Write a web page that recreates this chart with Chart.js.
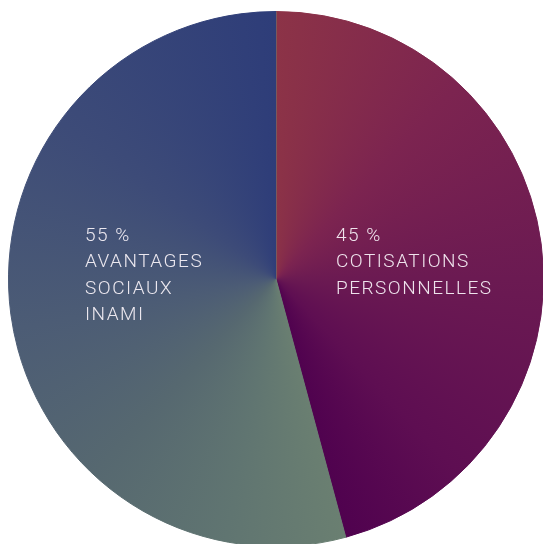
<!DOCTYPE html>
<html>
<head>
<meta charset="utf-8">
<script src="https://cdn.jsdelivr.net/npm/chart.js@4.4.1/dist/chart.umd.min.js"></script>
<style>
  html, body { margin:0; padding:0; background:#ffffff; overflow:hidden; }
  #wrap { position:absolute; left:0; top:0; width:546px; height:550px; }
</style>
</head>
<body>
<div id="wrap"><canvas id="pieChart"></canvas></div>
<script>
// Data
const categories = ["Cotisations personnelles", "Avantages sociaux INAMI"];
const shares = [45.8, 54.2];
const labelLines = [
    ["45 %", "COTISATIONS", "PERSONNELLES"],
    ["55 %", "AVANTAGES", "SOCIAUX", "INAMI"]
];

// colour stops per slice, offsets as fraction of the whole turn
const sliceStops = [
    [[0, "#8c3347"], [0.12, "#7c2450"], [0.25, "#6b1a52"], [0.38, "#5e0e52"], [0.458, "#50024f"]],
    [[0.458, "#6a7f71"], [0.53, "#607571"], [0.62, "#566870"], [0.72, "#4c5c75"], [0.85, "#3d4b78"], [1, "#2e3d79"]]
];

function sliceGradient(context){
    const chart = context.chart;
    const a = chart.chartArea;
    if(!a) return "#666";
    const cx = (a.left + a.right) / 2;
    const cy = (a.top + a.bottom) / 2;
    const g = chart.ctx.createConicGradient(-Math.PI / 2, cx, cy);
    const stops = sliceStops[context.dataIndex];
    stops.forEach(s => g.addColorStop(s[0], s[1]));
    return g;
}

// ----------------- LABELS INSIDE THE SLICES -----------------
const sliceLabels = {
    id: "sliceLabels",
    afterDatasetsDraw(chart){
        const ctx = chart.ctx;
        const a = chart.chartArea;
        const cx = (a.left + a.right) / 2;
        const cy = (a.top + a.bottom) / 2;
        const spots = [[cx + 60, cy - 38], [cx - 191, cy - 38]];
        ctx.save();
        ctx.fillStyle = "rgba(250,244,250,0.92)";
        ctx.font = "300 19px Roboto";
        ctx.textAlign = "left";
        ctx.textBaseline = "alphabetic";
        if("letterSpacing" in ctx) ctx.letterSpacing = "1.5px";
        labelLines.forEach((lines, i) => {
            lines.forEach((t, j) => ctx.fillText(t, spots[i][0], spots[i][1] + j * 26.4));
        });
        ctx.restore();
    }
};

const ctxPie = document.getElementById("pieChart").getContext("2d");

const pieChart = new Chart(ctxPie, {
    type: 'pie',
    data: {
        labels: categories,
        datasets: [{
            data: shares,
            backgroundColor: sliceGradient,
            borderColor: sliceGradient,
            borderWidth: 1
        }]
    },
    options: {
        responsive: true,
        maintainAspectRatio: false,
        devicePixelRatio: 1,
        animation: false,
        layout: { padding: { left: 8, top: 11, right: 2, bottom: 3 } },
        plugins: {
            legend: { display: false },
            tooltip: { enabled: false }
        }
    },
    plugins: [sliceLabels]
});
</script>
</body>
</html>
